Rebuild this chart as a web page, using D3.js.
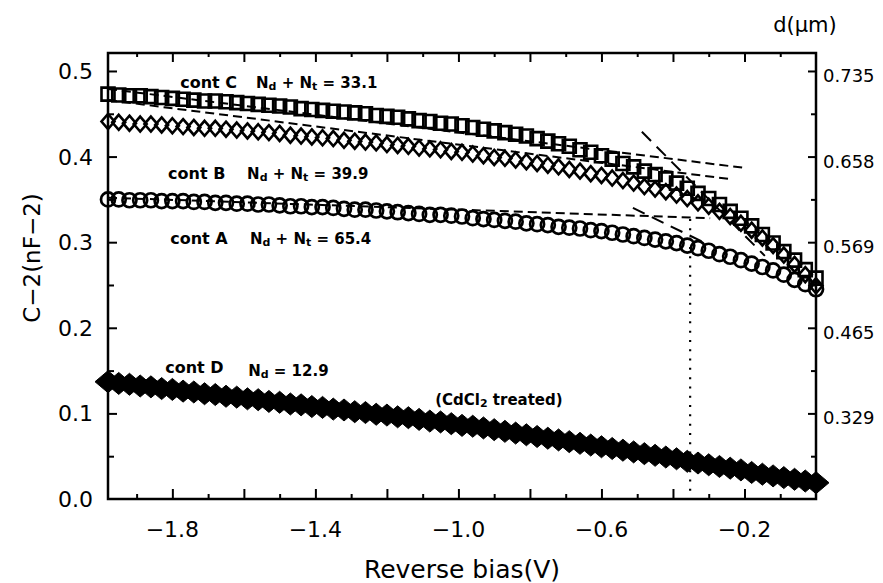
<!DOCTYPE html>
<html>
<head>
<meta charset="utf-8">
<script src="https://cdn.jsdelivr.net/npm/d3@7"></script>
<style>
  body { margin: 0; background: #fff; }
  text { font-family: "DejaVu Sans", sans-serif; fill: #000; }
</style>
</head>
<body>
<svg id="chart" width="883" height="583"></svg>
<script>
// reverse bias (V) of every measured point
var bias = [-1.98, -1.95, -1.92, -1.89, -1.86, -1.83, -1.80, -1.77, -1.74, -1.71,
  -1.68, -1.65, -1.62, -1.59, -1.56, -1.53, -1.50, -1.47, -1.44, -1.41,
  -1.38, -1.35, -1.32, -1.29, -1.26, -1.23, -1.20, -1.17, -1.14, -1.11,
  -1.08, -1.05, -1.02, -0.99, -0.96, -0.93, -0.90, -0.87, -0.84, -0.81,
  -0.78, -0.75, -0.72, -0.69, -0.66, -0.63, -0.60, -0.57, -0.54, -0.51,
  -0.48, -0.45, -0.42, -0.39, -0.36, -0.33, -0.30, -0.27, -0.24, -0.21,
  -0.18, -0.15, -0.12, -0.09, -0.06, -0.03, 0.00];

// C^-2 (nF^-2) per contact
var contC = [0.473, 0.472, 0.471, 0.471, 0.470, 0.469, 0.468, 0.467, 0.466, 0.465,
  0.465, 0.464, 0.463, 0.462, 0.461, 0.460, 0.459, 0.458, 0.456, 0.455,
  0.454, 0.453, 0.452, 0.451, 0.450, 0.448, 0.447, 0.446, 0.444, 0.442,
  0.441, 0.439, 0.438, 0.436, 0.434, 0.432, 0.430, 0.428, 0.426, 0.424,
  0.421, 0.418, 0.415, 0.412, 0.408, 0.405, 0.401, 0.397, 0.392, 0.388,
  0.383, 0.379, 0.374, 0.369, 0.363, 0.357, 0.351, 0.344, 0.336, 0.328,
  0.319, 0.309, 0.299, 0.289, 0.279, 0.268, 0.258];

var contB = [0.441, 0.440, 0.439, 0.438, 0.438, 0.437, 0.436, 0.435, 0.434, 0.433,
  0.433, 0.432, 0.431, 0.430, 0.429, 0.428, 0.427, 0.425, 0.424, 0.423,
  0.422, 0.421, 0.419, 0.418, 0.417, 0.416, 0.414, 0.413, 0.412, 0.410,
  0.409, 0.408, 0.406, 0.405, 0.403, 0.401, 0.399, 0.398, 0.396, 0.394,
  0.392, 0.390, 0.388, 0.385, 0.383, 0.380, 0.378, 0.375, 0.372, 0.369,
  0.365, 0.362, 0.359, 0.355, 0.351, 0.346, 0.342, 0.336, 0.330, 0.322,
  0.314, 0.305, 0.296, 0.285, 0.274, 0.262, 0.249];

var contA = [0.350, 0.350, 0.349, 0.349, 0.349, 0.348, 0.348, 0.348, 0.347, 0.347,
  0.346, 0.346, 0.345, 0.345, 0.344, 0.344, 0.343, 0.342, 0.342, 0.341,
  0.341, 0.340, 0.339, 0.338, 0.338, 0.337, 0.336, 0.335, 0.334, 0.333,
  0.332, 0.332, 0.331, 0.330, 0.328, 0.327, 0.326, 0.325, 0.324, 0.322,
  0.321, 0.320, 0.318, 0.317, 0.316, 0.314, 0.313, 0.311, 0.309, 0.307,
  0.305, 0.303, 0.301, 0.299, 0.296, 0.293, 0.290, 0.286, 0.283, 0.279,
  0.275, 0.271, 0.267, 0.262, 0.256, 0.251, 0.245];

var contD = [0.137, 0.135, 0.134, 0.132, 0.131, 0.129, 0.128, 0.126, 0.125, 0.123,
  0.122, 0.120, 0.119, 0.117, 0.116, 0.114, 0.113, 0.111, 0.110, 0.108,
  0.107, 0.105, 0.104, 0.102, 0.101, 0.099, 0.098, 0.096, 0.095, 0.093,
  0.091, 0.090, 0.088, 0.086, 0.085, 0.083, 0.081, 0.079, 0.077, 0.075,
  0.073, 0.071, 0.069, 0.067, 0.065, 0.063, 0.061, 0.059, 0.057, 0.055,
  0.053, 0.051, 0.049, 0.047, 0.044, 0.042, 0.040, 0.038, 0.036, 0.034,
  0.031, 0.029, 0.027, 0.025, 0.023, 0.021, 0.019];

// dashed fit lines: [[V, C^-2], [V, C^-2]]
var fitShort = [
  [[-1.98, 0.479], [-0.204, 0.387]],
  [[-1.98, 0.466], [-0.246, 0.374]],
  [[-1.98, 0.352], [-0.296, 0.328]]
];
var fitSteep = [
  [[-0.487, 0.429], [-0.143, 0.284]],
  [[-0.512, 0.340], [-0.310, 0.299]]
];
var markerBias = -0.352;

// ticks
var xMajor = [-1.8, -1.6, -1.4, -1.2, -1.0, -0.8, -0.6, -0.4, -0.2];
var xLabelled = [-1.8, -1.4, -1.0, -0.6, -0.2];
var xMinor = [-1.9, -1.7, -1.5, -1.3, -1.1, -0.9, -0.7, -0.5, -0.3, -0.1];
var yMajor = [0.0, 0.1, 0.2, 0.3, 0.4, 0.5];
var yMinor = [0.05, 0.15, 0.25, 0.35, 0.45];
var depthTicks = [0.5, 0.4, 0.3, 0.2, 0.1];
var depthLabels = ["0.735", "0.658", "0.569", "0.465", "0.329"];

var svg = d3.select("#chart");
var links = 108, rechts = 816, boven = 53, onder = 499;

var x = d3.scaleLinear().domain([-1.98, 0]).range([links, rechts]);
var y = d3.scaleLinear().domain([0, 0.521]).range([onder, boven]);

// assen
function tikken(as, waarden, lengte) {
  svg.append("g")
    .attr("transform", as.t)
    .call(as.f(as.s).tickValues(waarden).tickSize(lengte).tickSizeOuter(0).tickFormat(""))
    .call(function(g) { g.select(".domain").remove(); })
    .selectAll("line").attr("stroke", "#000").attr("stroke-width", 2);
}
var onderAs = {f: d3.axisBottom, s: x, t: "translate(0," + onder + ")"};
var bovenAs = {f: d3.axisTop, s: x, t: "translate(0," + boven + ")"};
var linksAs = {f: d3.axisLeft, s: y, t: "translate(" + links + ",0)"};
var rechtsAs = {f: d3.axisRight, s: y, t: "translate(" + rechts + ",0)"};
tikken(onderAs, xMajor, -10);
tikken(onderAs, xMinor, -5);
tikken(bovenAs, xMajor, -9);
tikken(bovenAs, xMinor, -4);
tikken(linksAs, yMajor.slice(1), -9);
tikken(linksAs, yMinor, -6);
tikken(rechtsAs, depthTicks, -8);
tikken(rechtsAs, yMinor, -5);

// kader
svg.append("rect")
  .attr("x", links).attr("y", boven)
  .attr("width", rechts - links).attr("height", onder - boven)
  .attr("fill", "none").attr("stroke", "#000").attr("stroke-width", 2.5);

// labels
svg.selectAll(".xlab").data(xLabelled).enter().append("text")
  .attr("x", function(d) { return x(d); })
  .attr("y", 537)
  .attr("text-anchor", "middle")
  .attr("font-size", "22px")
  .text(d3.format(".1f"));

svg.selectAll(".ylab").data(yMajor).enter().append("text")
  .attr("x", 93)
  .attr("y", function(d) { return y(d) + 8; })
  .attr("text-anchor", "end")
  .attr("font-size", "22px")
  .text(d3.format(".1f"));

svg.selectAll(".dlab").data(depthTicks).enter().append("text")
  .attr("x", 823)
  .attr("y", function(d) { return y(d) + 11; })
  .attr("font-size", "18px")
  .text(function(d, i) { return depthLabels[i]; });

svg.append("text").attr("x", 805).attr("y", 32)
  .attr("text-anchor", "middle").attr("font-size", "21px")
  .text("d(\u03BCm)");

svg.append("text").attr("x", 462).attr("y", 578)
  .attr("text-anchor", "middle").attr("font-size", "25px")
  .text("Reverse bias(V)");

svg.append("text")
  .attr("transform", "translate(40,258) rotate(-90)")
  .attr("text-anchor", "middle").attr("font-size", "23px")
  .text("C\u22122(nF\u22122)");

// fitlijnen
var lijn = d3.line().x(function(d) { return x(d[0]); }).y(function(d) { return y(d[1]); });
svg.selectAll(".fit").data(fitShort).enter().append("path")
  .attr("d", lijn).attr("fill", "none").attr("stroke", "#000")
  .attr("stroke-width", 2).attr("stroke-dasharray", "9,5");
svg.selectAll(".steil").data(fitSteep).enter().append("path")
  .attr("d", lijn).attr("fill", "none").attr("stroke", "#000")
  .attr("stroke-width", 2).attr("stroke-dasharray", "13,8");

svg.append("line")
  .attr("x1", x(markerBias)).attr("x2", x(markerBias))
  .attr("y1", y(0.327)).attr("y2", y(0))
  .attr("stroke", "#000").attr("stroke-width", 2.2)
  .attr("stroke-dasharray", "2,7.3");

// meetpunten
function ruit(hb, hh) {
  return {draw: function(ctx) {
    ctx.moveTo(0, -hh); ctx.lineTo(hb, 0); ctx.lineTo(0, hh); ctx.lineTo(-hb, 0); ctx.closePath();
  }};
}
function punten(waarden, symbool, vulling, breedte) {
  svg.append("g").selectAll("path")
    .data(waarden).enter().append("path")
    .attr("transform", function(d, i) { return "translate(" + x(bias[i]) + "," + y(d) + ")"; })
    .attr("d", symbool)
    .attr("fill", vulling)
    .attr("stroke", "#000")
    .attr("stroke-width", breedte);
}
punten(contA, d3.symbol(d3.symbolCircle, Math.PI * 49)(), "none", 2.7);
punten(contB, d3.symbol(ruit(6.5, 7.5))(), "none", 2.6);
punten(contC, d3.symbol(d3.symbolSquare, 169)(), "none", 2.6);
punten(contD, d3.symbol(ruit(13, 11))(), "#000", 1);

// tekst bij de curves
function contLabel(v, c, naam) {
  svg.append("text").attr("x", x(v)).attr("y", y(c))
    .attr("font-size", "16px").attr("font-weight", "bold").text(naam);
}
function ndLabel(v, c, metNt, getal) {
  var t = svg.append("text").attr("x", x(v)).attr("y", y(c))
    .attr("font-size", "15px").attr("font-weight", "bold");
  t.append("tspan").text("N");
  t.append("tspan").attr("font-size", "11px").attr("dy", 2).text("d");
  if (metNt) {
    t.append("tspan").attr("dy", -2).text(" + N");
    t.append("tspan").attr("font-size", "11px").attr("dy", 2).text("t");
  }
  t.append("tspan").attr("dy", -2).text(" = " + getal);
}
contLabel(-1.778, 0.480, "cont C");
ndLabel(-1.566, 0.480, true, "33.1");
contLabel(-1.812, 0.374, "cont B");
ndLabel(-1.591, 0.374, true, "39.9");
contLabel(-1.806, 0.298, "cont A");
ndLabel(-1.583, 0.298, true, "65.4");
contLabel(-1.82, 0.147, "cont D");
ndLabel(-1.588, 0.144, false, "12.9");

var cd = svg.append("text").attr("x", x(-1.065)).attr("y", y(0.110))
  .attr("font-size", "15px").attr("font-weight", "bold");
cd.append("tspan").text("(CdCl");
cd.append("tspan").attr("font-size", "11px").attr("dy", 2).text("2");
cd.append("tspan").attr("dy", -2).text(" treated)");
</script>
</body>
</html>
